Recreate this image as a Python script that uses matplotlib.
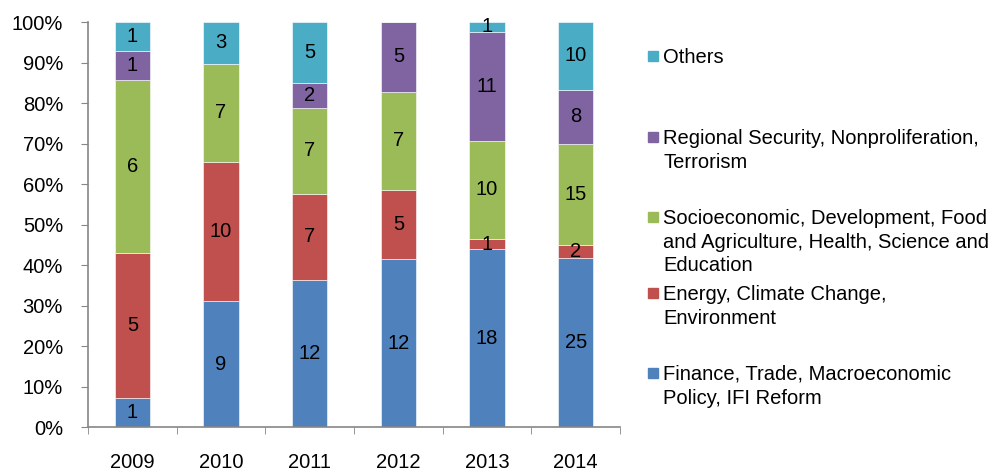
import numpy as np
import matplotlib.pyplot as plt
from matplotlib.patches import Rectangle

plt.rcParams['font.family'] = ['Liberation Sans', 'DejaVu Sans']

years = ['2009', '2010', '2011', '2012', '2013', '2014']
finance = [1, 9, 12, 12, 18, 25]
energy = [5, 10, 7, 5, 1, 2]
socio = [6, 7, 7, 7, 10, 15]
regional = [1, 0, 2, 5, 11, 8]
others = [1, 3, 5, 0, 1, 10]

series = [finance, energy, socio, regional, others]
labels = ['Finance, Trade, Macroeconomic\nPolicy, IFI Reform',
          'Energy, Climate Change,\nEnvironment',
          'Socioeconomic, Development, Food\nand Agriculture, Health, Science and\nEducation',
          'Regional Security, Nonproliferation,\nTerrorism',
          'Others']
colors = ['#4F81BD', '#C0504D', '#9BBB59', '#8064A2', '#4BACC6']

data = np.array(series, dtype=float)
totals = data.sum(axis=0)
pct = data / totals * 100

fig = plt.figure(figsize=(9.98, 4.72), dpi=100)
ax = fig.add_axes([0.0882, 0.0953, 0.533, 0.858])

x = np.arange(len(years))
bottom = np.zeros(len(years))
for vals, p, c in zip(series, pct, colors):
    ax.bar(x, p, 0.4, bottom=bottom, color=c, edgecolor='white', linewidth=0.4)
    for xi, v, pi, b in zip(x, vals, p, bottom):
        if v > 0:
            ax.text(xi, b + pi / 2, str(v), ha='center', va='center', fontsize=14.5)
    bottom += p

ax.set_xlim(-0.5, len(years) - 0.5)
ax.set_ylim(0, 100)
ax.set_yticks(np.arange(0, 101, 10))
ax.set_yticklabels([f'{v}%' for v in range(0, 101, 10)], fontsize=14.5)
ax.set_xticks(x)
ax.set_xticklabels(years, fontsize=14.5)
ax.set_xticks(np.arange(-0.5, len(years), 1), minor=True)
ax.tick_params(axis='x', which='major', length=0, pad=19)
ax.tick_params(axis='x', which='minor', length=5, color='#868686', direction='out')
ax.tick_params(axis='y', length=5, color='#868686', pad=13)
for s in ['top', 'right']:
    ax.spines[s].set_visible(False)
for s in ['left', 'bottom']:
    ax.spines[s].set_color('#868686')
    ax.spines[s].set_linewidth(1.2)

# legend drawn manually, top to bottom
leg_y = [56, 137, 217, 293, 373]
for lab, c, yy in zip(labels[::-1], colors[::-1], leg_y):
    yf = 1 - yy / 472
    fig.patches.append(Rectangle((648 / 998, yf - 5 / 472), 10 / 998, 10 / 472,
                                 transform=fig.transFigure, color=c))
    fig.text(663 / 998, 1 - (yy - 8) / 472, lab, ha='left', va='top',
             fontsize=14.5, linespacing=1.3)

fig.savefig('out.png', dpi=100)
